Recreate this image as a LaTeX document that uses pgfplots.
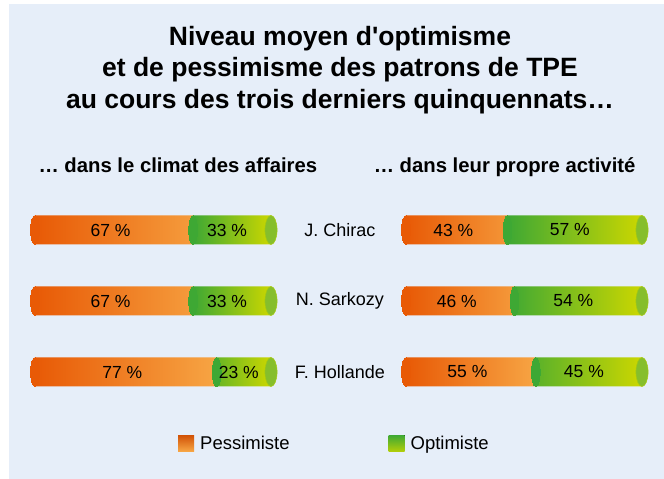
\documentclass[border=0pt]{standalone}
\usepackage{pgfplots}
\pgfplotsset{compat=1.18}
\usepackage{fontspec}
\setmainfont{Liberation Sans}
\definecolor{bg}{HTML}{E6EEF9}
\definecolor{orL}{HTML}{E85A06}
\definecolor{orR}{HTML}{F7A544}
\definecolor{grL}{HTML}{3EA834}
\definecolor{grR}{HTML}{CCD700}
\definecolor{capc}{HTML}{86BE2C}
\pgfplotsset{
  panel/.style={
    scale only axis, width=236bp, height=213bp,
    xmin=0, xmax=100, ymin=-0.5, ymax=2.5,
    xbar stacked, bar width=29bp, clip=false,
    axis line style={draw=none}, tick style={draw=none},
    xtick=\empty, ytick=\empty,
    title style={font=\fontsize{20.3bp}{23bp}\selectfont\bfseries},
  },
  pess/.style={draw=none, left color=orL, right color=orR,
    nodes near coords, point meta=explicit symbolic,
    every node near coord/.append style={text=black, xshift=-3.5bp, font=\fontsize{17.5bp}{20bp}\selectfont},
    legend image code/.code={\fill[top color=orL!90!black, bottom color=orR] (0bp,-8bp) rectangle (16bp,8bp);}},
  opt/.style={draw=none, left color=grL, right color=grR,
    nodes near coords, point meta=explicit symbolic,
    every node near coord/.append style={text=black, xshift=-5bp, font=\fontsize{17.5bp}{20bp}\selectfont},
    legend image code/.code={\fill[top color=grL, bottom color=grR!80!grL] (0bp,-8bp) rectangle (16bp,8bp);}},
  capL/.style={stack plots=false, only marks, color=orL, mark=*, mark size=14.5bp, forget plot,
    mark options={xscale=0.3, fill=orL, draw=orL, line width=0pt}},
  capM/.style={stack plots=false, only marks, color=grL, mark=*, mark size=14.5bp, forget plot,
    mark options={xscale=0.3, fill=grL, draw=grL, line width=0pt}},
  capR/.style={stack plots=false, only marks, color=capc, mark=*, mark size=14.5bp, forget plot,
    mark options={xscale=0.42, fill=capc, draw=grR!75!grL, line width=0.5bp}},
}
\begin{document}
\begin{tikzpicture}
\fill[white] (0,0) rectangle (664bp,479bp);
\fill[bg] (9bp,0) rectangle (664bp,475bp);
\node[align=center, font=\fontsize{26.5bp}{31.5bp}\selectfont\bfseries] at (340bp,409bp)
  {Niveau moyen d\textquotesingle optimisme\\et de pessimisme des patrons de TPE\\au cours des trois derniers quinquennats\ldots};
% left panel
\begin{axis}[panel, at={(35bp,71.5bp)}, anchor=south west,
  title={\ldots\ dans le climat des affaires},
  title style={at={(axis description cs:0,1)}, anchor=base west, xshift=0bp, yshift=16bp},
  legend style={at={(axis description cs:0.606,-0.167)}, anchor=west, draw=none, fill=none,
    legend columns=2, inner sep=0pt, font=\fontsize{18.5bp}{20bp}\selectfont,
    /tikz/every odd column/.append style={column sep=4bp},
    /tikz/every even column/.append style={column sep=97bp}},
  legend cell align=left]
\addplot[capL] coordinates {(0,2) (0,1) (0,0)};
\addplot[pess] coordinates {(67,2) [67 \%] (67,1) [67 \%] (77,0) [77 \%]};
\addlegendentry{Pessimiste}
\addplot[opt] coordinates {(33,2) [33 \%] (33,1) [33 \%] (23,0) [23 \%]};
\addlegendentry{Optimiste}
\addplot[capM] coordinates {(67,2) (67,1) (77,0)};
\addplot[capR] coordinates {(100,2) (100,1) (100,0)};
\end{axis}
% right panel
\begin{axis}[panel, at={(406bp,71.5bp)}, anchor=south west,
  title={\ldots\ dans leur propre activit\'e},
  title style={at={(axis description cs:1,1)}, anchor=base east, xshift=-3bp, yshift=16bp},
  ytick={0,1,2}, yticklabels={F. Hollande, N. Sarkozy, J. Chirac},
  yticklabel style={anchor=center, xshift=-66bp, font=\fontsize{18bp}{20bp}\selectfont}]
\addplot[capL] coordinates {(0,2) (0,1) (0,0)};
\addplot[pess] coordinates {(43,2) [43 \%] (46,1) [46 \%] (55,0) [55 \%]};
\addplot[opt] coordinates {(57,2) [57 \%] (54,1) [54 \%] (45,0) [45 \%]};
\addplot[capM] coordinates {(43,2) (46,1) (55,0)};
\addplot[capR] coordinates {(100,2) (100,1) (100,0)};
\end{axis}
\end{tikzpicture}
\end{document}
